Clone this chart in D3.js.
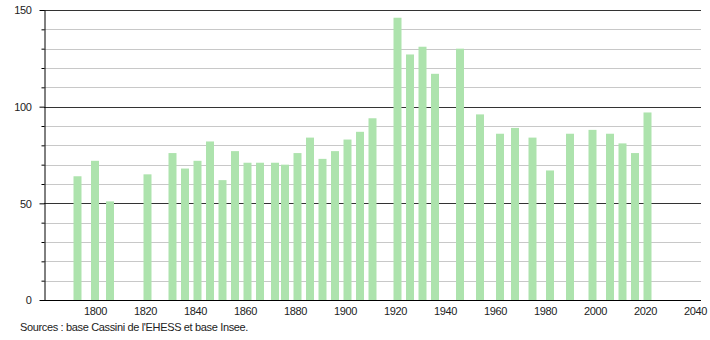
<!DOCTYPE html>
<html>
<head>
<meta charset="utf-8">
<script src="https://cdn.jsdelivr.net/npm/d3@7"></script>
<style>
  body { margin: 0; background: #fff; }
  text { font-family: "Liberation Sans", Arial, sans-serif; letter-spacing: -0.35px; }
</style>
</head>
<body>
<script>
// années de recensement et population
const annees = [1793, 1800, 1806, 1821, 1831, 1836, 1841, 1846, 1851, 1856,
  1861, 1866, 1872, 1876, 1881, 1886, 1891, 1896, 1901, 1906, 1911,
  1921, 1926, 1931, 1936, 1946, 1954, 1962, 1968, 1975, 1982, 1990,
  1999, 2006, 2011, 2016, 2021];
const population = [64, 72, 51, 65, 76, 68, 72, 82, 62, 77,
  71, 71, 71, 70, 76, 84, 73, 77, 83, 87, 94,
  146, 127, 131, 117, 130, 96, 86, 89, 84, 67, 86,
  88, 86, 81, 76, 97];
const xTicks = [1800, 1820, 1840, 1860, 1880, 1900, 1920, 1940, 1960, 1980, 2000, 2020, 2040];
const yTicks = [0, 50, 100, 150];
const source = "Sources : base Cassini de l'EHESS et base Insee.";

const width = 710, height = 340;
const margeG = 44, margeD = 701, margeH = 10, margeB = 300;

const svg = d3.select("body").append("svg")
  .attr("width", width)
  .attr("height", height);

const x = d3.scaleLinear().domain([1779.6, 2042.4]).range([margeG, margeD]);
const y = d3.scaleLinear().domain([0, 150]).range([margeB, margeH]);

// grille : tous les 10, plus foncée tous les 50
const grille = d3.range(10, 151, 10);
svg.append("g").selectAll("line")
  .data(grille)
  .enter().append("line")
  .attr("x1", margeG).attr("x2", margeD)
  .attr("y1", d => Math.round(y(d)) + 0.5)
  .attr("y2", d => Math.round(y(d)) + 0.5)
  .attr("stroke", d => d % 50 == 0 ? "#333" : "#c8c8c8")
  .attr("stroke-width", 1);

// barres
svg.append("g").selectAll("rect")
  .data(annees.map((a, i) => ({ annee: a, pop: population[i] })))
  .enter().append("rect")
  .attr("x", d => x(d.annee) - 4)
  .attr("width", 8)
  .attr("y", d => y(d.pop))
  .attr("height", d => y(0) - y(d.pop))
  .attr("fill", "#ade3ad");

// axe des y
const axeY = d3.axisLeft(y).tickValues(d3.range(0, 151, 10))
  .tickSize(0).tickFormat("");
const gY = svg.append("g").attr("transform", `translate(${margeG + 0.5},0)`).call(axeY);
gY.select(".domain").attr("stroke", "#000");
gY.selectAll(".tick line")
  .attr("x2", d => d % 50 == 0 ? -5 : -3)
  .attr("stroke", "#000");
gY.selectAll(".tick")
  .filter(d => yTicks.includes(d))
  .append("text")
  .attr("x", -13)
  .attr("dy", "0.35em")
  .attr("text-anchor", "end")
  .attr("fill", "#222")
  .attr("font-size", 11)
  .text(d => d);

// axe des x
const axeX = d3.axisBottom(x).tickValues(xTicks).tickSize(0).tickPadding(7)
  .tickFormat(d3.format("d"));
const gX = svg.append("g").attr("transform", `translate(0,${margeB + 0.5})`).call(axeX);
gX.select(".domain").attr("stroke", "#000").attr("d", `M${margeG},0H${margeD}`);
gX.selectAll("text").attr("fill", "#222").attr("font-size", 11)
  .attr("font-family", "'Liberation Sans', Arial, sans-serif");

svg.append("text")
  .attr("x", 20)
  .attr("y", 331)
  .attr("font-size", 11)
  .attr("fill", "#222")
  .text(source);
</script>
</body>
</html>
